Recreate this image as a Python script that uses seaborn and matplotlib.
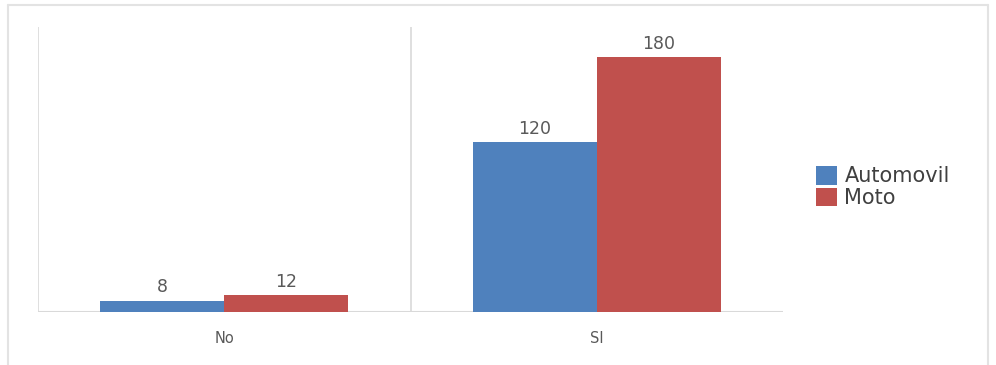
import matplotlib
matplotlib.use("Agg")
import matplotlib.pyplot as plt
from matplotlib.lines import Line2D
import seaborn as sns
import pandas as pd

categories = ["No", "SI"]
series = ["Automovil", "Moto"]
automovil = [8, 120]
moto = [12, 180]

df = pd.DataFrame({
    "cat": categories * 2,
    "serie": [series[0]] * 2 + [series[1]] * 2,
    "val": automovil + moto,
})

sns.set_theme(style="white")
plt.rcParams["font.family"] = ["DejaVu Sans"]

W, H = 996, 365
fig = plt.figure(figsize=(W / 100, H / 100), dpi=100)
ax = fig.add_axes([38 / W, (H - 312) / H, 745 / W, 285 / H])

sns.barplot(data=df, x="cat", y="val", hue="serie", palette=["#4F81BD", "#C0504D"],
            width=2 / 3, saturation=1, ax=ax, legend=True, linewidth=0, edgecolor="none")

ax.set_xlim(-0.5, 1.5)
ax.set_ylim(0, 201)
ax.set_xlabel("")
ax.set_ylabel("")
ax.set_yticks([])
for s in ax.spines.values():
    s.set_visible(False)
ax.tick_params(axis="x", length=0, labelsize=10.5, labelcolor="#595959", pad=14)

grid_c = "#D9D9D9"
for xv in [-0.5, 0.5]:
    ax.axvline(xv, color=grid_c, lw=1.2, zorder=0)
ax.axhline(0, color=grid_c, lw=1.5, zorder=0.5)

for cont in ax.containers:
    ax.bar_label(cont, padding=3, fontsize=12.5, color="#595959")

leg = ax.get_legend()
handles, labels = ax.get_legend_handles_labels()
leg.remove()
fig.legend(handles, labels, loc="center left", bbox_to_anchor=(808 / W, 1 - 187 / H),
           frameon=False, fontsize=15, handlelength=1.0, handleheight=1.0,
           handletextpad=0.35, labelspacing=0.05, labelcolor="#404040", borderaxespad=0)

# outer chart border (left, top, right)
bc = "#E3E3E3"
fig.add_artist(Line2D([8 / W, 8 / W], [0, 1 - 5 / H], transform=fig.transFigure, color=bc, lw=1.5))
fig.add_artist(Line2D([8 / W, 988 / W], [1 - 5 / H, 1 - 5 / H], transform=fig.transFigure, color=bc, lw=1.5))
fig.add_artist(Line2D([988 / W, 988 / W], [0, 1 - 5 / H], transform=fig.transFigure, color=bc, lw=1.5))

fig.savefig("out.png", dpi=100)
